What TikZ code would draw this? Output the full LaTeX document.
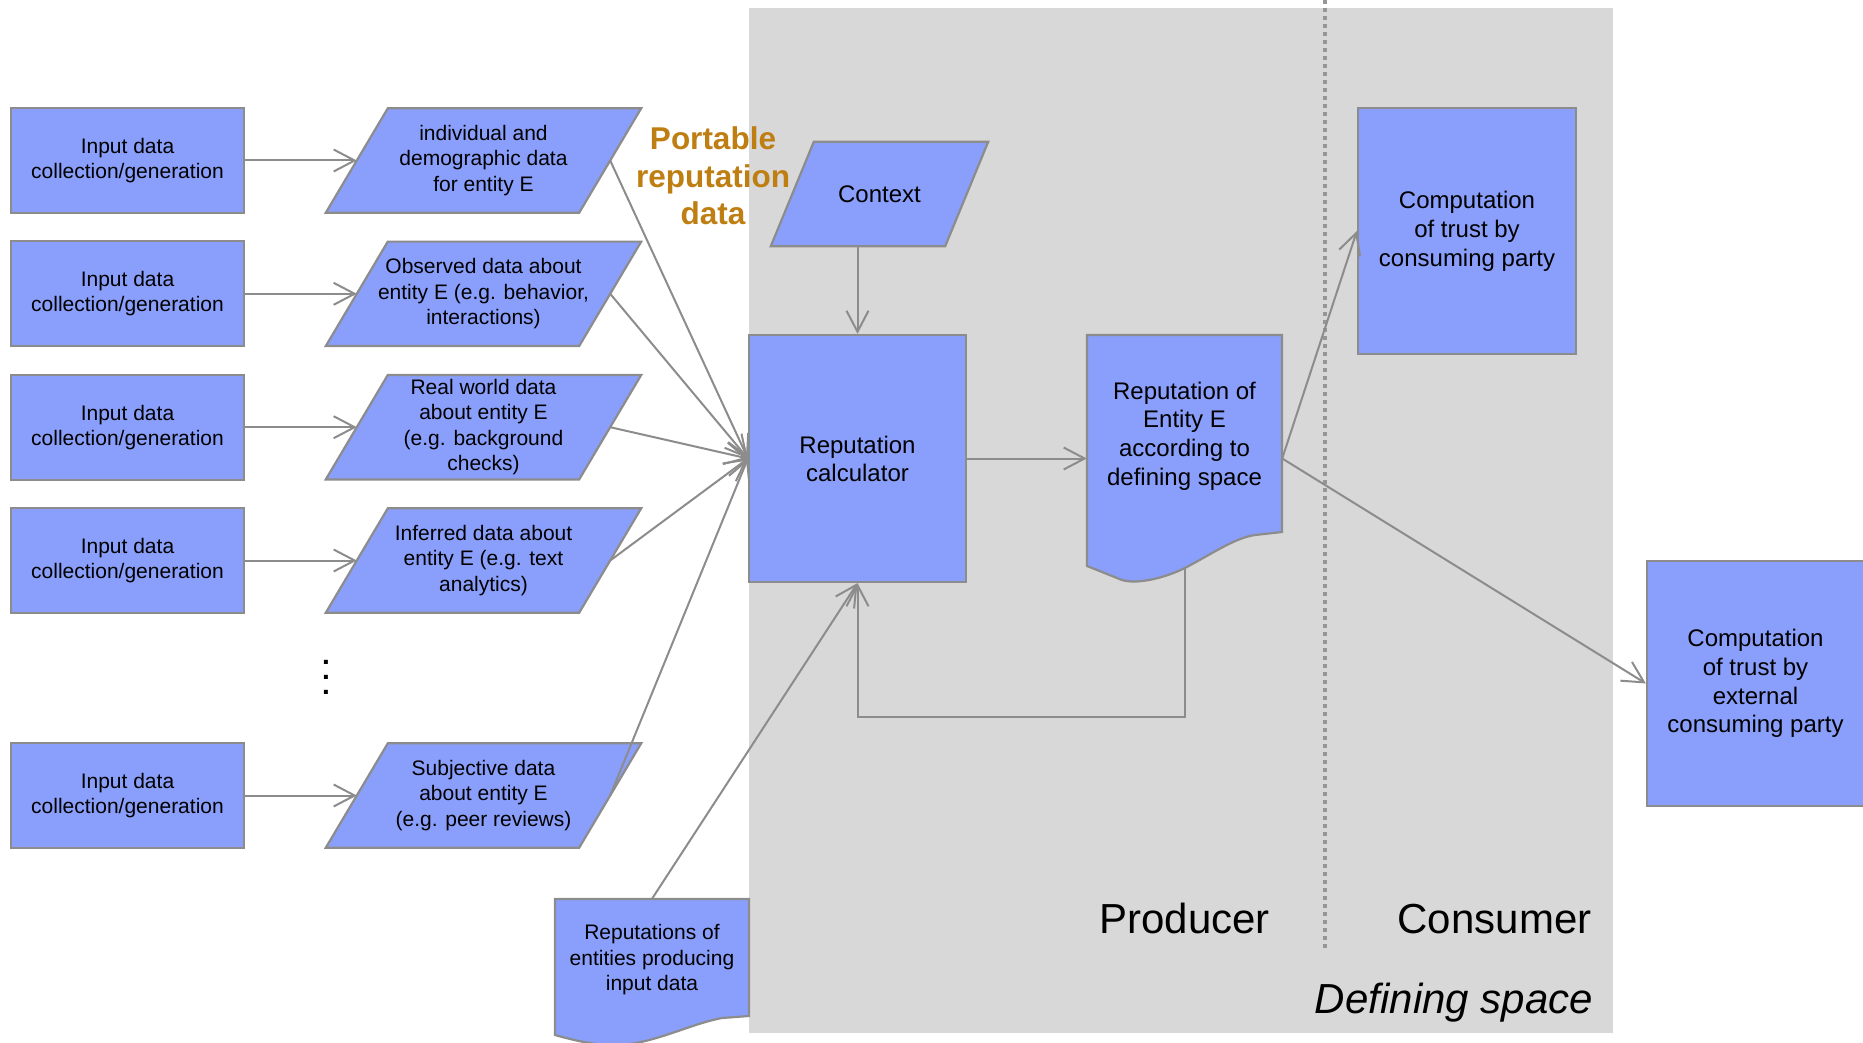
\documentclass[tikz,border=0pt]{standalone}
\usepackage{fontspec}
\setmainfont{Liberation Sans}
\usetikzlibrary{arrows.meta,calc}
\pgfdeclarelayer{back}
\pgfdeclarelayer{shapes}
\pgfsetlayers{back,shapes,main}
\definecolor{boxblue}{RGB}{138,159,251}
\definecolor{edge}{RGB}{140,140,140}
\definecolor{spacegray}{RGB}{216,216,216}
\definecolor{portable}{RGB}{190,126,18}
\definecolor{dotgray}{RGB}{150,150,150}
\newcommand\fsz[2]{\fontsize{#1}{#2}\selectfont}
\begin{document}
\begin{tikzpicture}[x=1pt,y=-1pt,
  rectbox/.style={draw=edge, line width=2.2pt, fill=boxblue, inner sep=0pt, align=center},
  inbox/.style={rectbox, minimum width=233pt, minimum height=105pt, font=\fsz{21}{25}},
  paratext/.style={inner sep=0pt, minimum width=253pt, minimum height=104pt, align=center, font=\fsz{21}{25.5}},
  shapeline/.style={draw=edge, line width=2.2pt, fill=boxblue, line join=miter},
  conn/.style={draw=edge, line width=2pt, -{Straight Barb[length=21pt,width=22pt,line width=2pt]}},
  biglabel/.style={inner sep=0pt, font=\fsz{42}{50}, anchor=base},
  dotmark/.style={inner sep=0pt, font=\bfseries\fsz{28}{30}}
]
\useasboundingbox (0,0) rectangle (1863,1043);
\begin{pgfonlayer}{back}
  \fill[spacegray] (749,8) rectangle (1613,1033);
  \draw[dotgray, line width=3.5pt, dash pattern=on 4pt off 4pt] (1325,0) -- (1325,950);
\end{pgfonlayer}

% input boxes
\node[inbox] (in1) at (127.5,160.5) {Input data\\collection/generation};
\node[inbox] (in2) at (127.5,293.8) {Input data\\collection/generation};
\node[inbox] (in3) at (127.5,427.2) {Input data\\collection/generation};
\node[inbox] (in4) at (127.5,560.5) {Input data\\collection/generation};
\node[inbox] (in5) at (127.5,795.5) {Input data\\collection/generation};

% data parallelograms
\node[paratext] (p1) at (483.5,160.5) {individual and\\demographic data\\for entity E};
\node[paratext] (p2) at (483.5,293.8) {Observed data about\\entity E (e.g. behavior,\\interactions)};
\node[paratext] (p3) at (483.5,427.2) {Real world data\\about entity E\\(e.g. background\\checks)};
\node[paratext] (p4) at (483.5,560.5) {Inferred data about\\entity E (e.g. text\\analytics)};
\node[paratext] (p5) at (483.5,795.5) {Subjective data\\about entity E\\(e.g. peer reviews)};

% vertical ellipsis
\node[dotmark] (dot1) at (326,662) {.};
\node[dotmark] (dot2) at (326,677) {.};
\node[dotmark] (dot3) at (326,692) {.};

\node[inner sep=0pt, align=center, font=\bfseries\fsz{31.5}{37.5}, text=portable] (port) at (713,176) {Portable\\reputation\\data};

\node[inner sep=0pt, minimum width=174pt, minimum height=104pt, font=\fsz{24}{28}] (ctx) at (879.5,194) {Context};

\node[rectbox, minimum width=217pt, minimum height=247pt, font=\fsz{24}{28}] (calc) at (857.5,458.5) {Reputation\\calculator};

\node[inner sep=0pt, minimum width=195pt, minimum height=202pt, align=center, font=\fsz{24}{28.7}] (doc) at (1184.5,436) {Reputation of\\Entity E\\according to\\defining space};

\node[rectbox, minimum width=218pt, minimum height=246pt, font=\fsz{24}{29}] (cons) at (1467,231) {Computation\\of trust by\\consuming party};

\node[rectbox, minimum width=217pt, minimum height=245pt, font=\fsz{24}{28.7}] (ext) at (1755.5,683.5) {Computation\\of trust by\\external\\consuming party};

\node[inner sep=0pt, minimum width=194pt, minimum height=122pt, align=center, font=\fsz{21}{25.5}] (rdoc) at (652,960) {Reputations of\\entities producing\\input data};

\node[biglabel] (prod) at (1184.5,933) {Producer};
\node[biglabel] (consl) at (1494.5,933) {Consumer};
\node[biglabel, anchor=base east, font=\itshape\fsz{42}{50}] (defsp) at (1593,1013) {Defining space};

\begin{pgfonlayer}{shapes}
  \foreach \nm in {p1,p2,p3,p4,p5}
    \draw[shapeline] ([xshift=31pt]\nm.north west) -- ([xshift=31pt]\nm.north east) -- ([xshift=-31pt]\nm.south east) -- ([xshift=-31pt]\nm.south west) -- cycle;
  \draw[shapeline] ([xshift=21.5pt]ctx.north west) -- ([xshift=21.5pt]ctx.north east) -- ([xshift=-21.5pt]ctx.south east) -- ([xshift=-21.5pt]ctx.south west) -- cycle;
  \draw[shapeline] (1087,335) -- (1282,335) -- (1282,532) -- (1255,535)
     .. controls (1235,538) and (1215,552) .. (1185,568)
     .. controls (1160,580) and (1135,584) .. (1122,580) -- (1087,566) -- cycle;
  \draw[shapeline] (555,899) -- (749,899) -- (749,1016) -- (722,1018)
     .. controls (690,1024) and (655,1043) .. (620,1045)
     .. controls (600,1046) and (580,1042) .. (555,1035) -- cycle;
\end{pgfonlayer}

% connectors
\foreach \i in {1,...,5} \draw[conn] (in\i.east) -- (p\i.west);
\foreach \i in {1,...,5} \draw[conn] (p\i.east) -- (calc.west);
\draw[conn] (calc.north |- ctx.south) -- (calc.north);
\draw[conn] (calc.east) -- (calc.east -| doc.west);
\draw[conn] (calc.east -| doc.east) -- (cons.west);
\draw[conn] (calc.east -| doc.east) -- (ext.west);
\draw[conn] (rdoc.north) -- (calc.south);
\coordinate (docb) at (1184.5,568);
\draw[conn] (docb) -- ++(0,149) -| (calc.south);
\end{tikzpicture}
\end{document}
